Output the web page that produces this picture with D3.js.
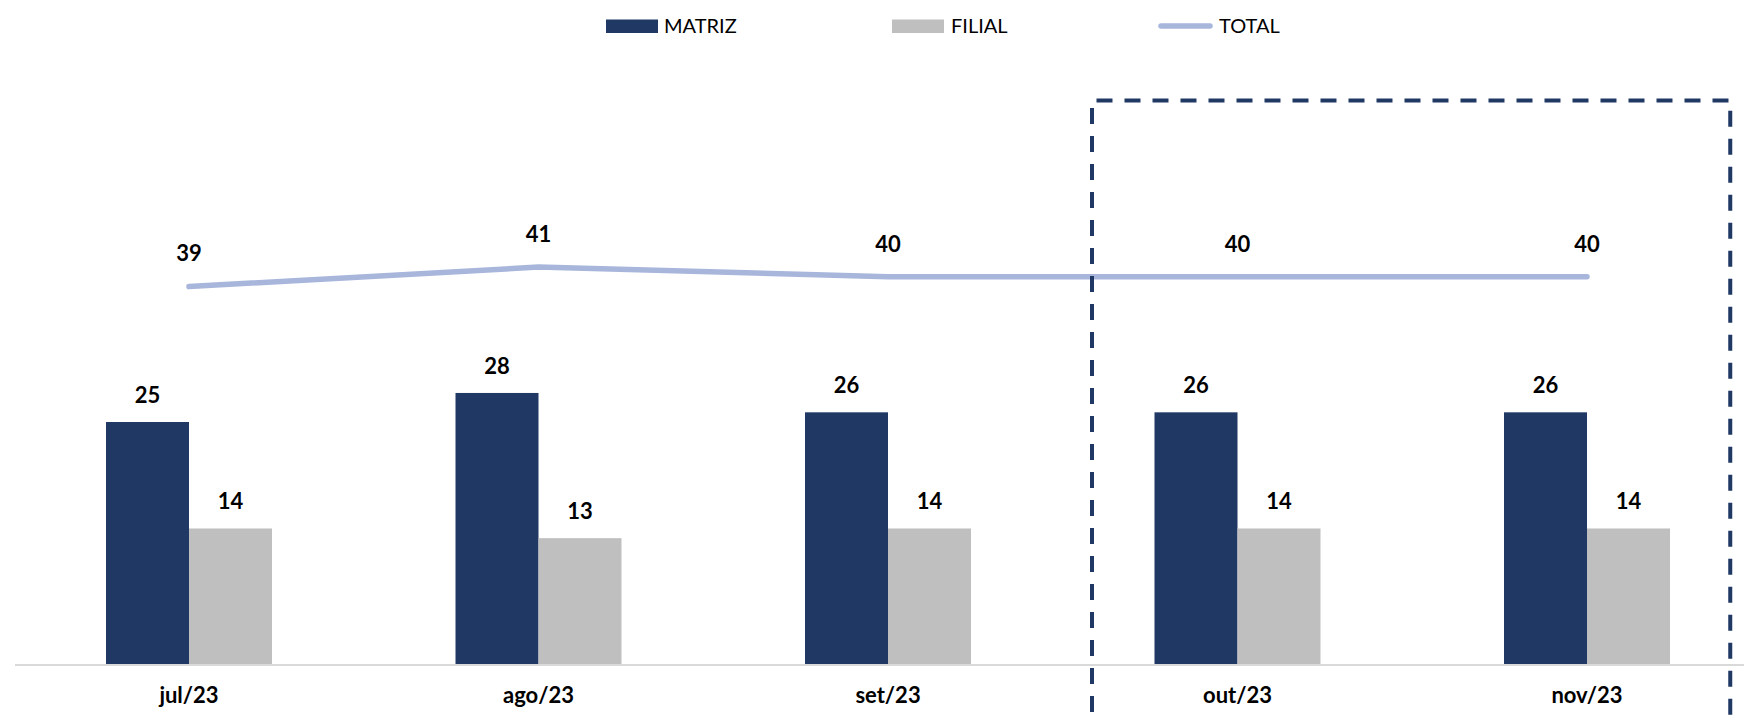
<!DOCTYPE html>
<html>
<head>
<meta charset="utf-8">
<script src="https://cdn.jsdelivr.net/npm/d3@7"></script>
<style>
  html, body { margin: 0; padding: 0; background: #fff; }
  svg { display: block; }
</style>
</head>
<body>
<svg id="chart" width="1744" height="720"></svg>
<script>
const categories = ["jul/23", "ago/23", "set/23", "out/23", "nov/23"];
const matriz = [25, 28, 26, 26, 26];
const filial = [14, 13, 14, 14, 14];
const total = [39, 41, 40, 40, 40];
const seriesNames = ["MATRIZ", "FILIAL"];
const highlighted = ["out/23", "nov/23"];

const colors = { MATRIZ: "#203864", FILIAL: "#BFBFBF", TOTAL: "#A8B6DC" };
const FONT = "Lato, 'Open Sans', sans-serif";

const svg = d3.select("#chart");

const step = 349.5;
const x0 = 14.25;
const x = d3.scaleBand().domain(categories).range([x0, x0 + step * categories.length]).padding(0);
const barW = 83;
const pOuter = (step / barW - 2) / 2;
const xs = d3.scaleBand().domain(seriesNames).range([0, x.bandwidth()]).paddingInner(0).paddingOuter(pOuter);
const y = d3.scaleLinear().domain([0, 58]).range([664, 664 - 58 * 9.68]);

// bars
const rows = categories.map((c, i) => ({ cat: c, MATRIZ: matriz[i], FILIAL: filial[i], TOTAL: total[i] }));
const g = svg.append("g");
rows.forEach(r => {
  seriesNames.forEach(s => {
    g.append("rect")
      .attr("x", x(r.cat) + xs(s))
      .attr("y", y(r[s]))
      .attr("width", xs.bandwidth())
      .attr("height", y(0) - y(r[s]))
      .attr("fill", colors[s]);
    g.append("text")
      .attr("x", x(r.cat) + xs(s) + xs.bandwidth() / 2)
      .attr("y", y(r[s]) - 19)
      .attr("text-anchor", "middle")
      .attr("font-family", FONT)
      .attr("font-weight", "bold")
      .attr("font-size", 22)
      .attr("fill", "#000")
      .text(r[s]);
  });
});

// axis baseline
svg.append("line")
  .attr("x1", 15).attr("x2", 1744)
  .attr("y1", y(0) + 1).attr("y2", y(0) + 1)
  .attr("stroke", "#D9D9D9").attr("stroke-width", 2);

// category labels
const xAxis = d3.axisBottom(x).tickSize(0).tickPadding(0);
const ax = svg.append("g").attr("transform", `translate(0, ${y(0)})`).call(xAxis);
ax.select(".domain").remove();
ax.selectAll("text")
  .attr("y", 39)
  .attr("dy", 0)
  .attr("font-family", FONT)
  .attr("font-weight", "bold")
  .attr("font-size", 22)
  .attr("fill", "#000");

// total line
const line = d3.line().x(d => x(d.cat) + x.bandwidth() / 2).y(d => y(d.TOTAL));
svg.append("path")
  .datum(rows)
  .attr("d", line)
  .attr("fill", "none")
  .attr("stroke", colors.TOTAL)
  .attr("stroke-width", 5.5)
  .attr("stroke-linecap", "round")
  .attr("stroke-linejoin", "round");
svg.selectAll(".tl").data(rows).enter().append("text")
  .attr("x", d => x(d.cat) + x.bandwidth() / 2)
  .attr("y", d => y(d.TOTAL) - 25)
  .attr("text-anchor", "middle")
  .attr("font-family", FONT)
  .attr("font-weight", "bold")
  .attr("font-size", 22)
  .attr("fill", "#000")
  .text(d => d.TOTAL);

// dashed highlight box
const hx1 = x(highlighted[0]) + 29.25;
const hx2 = x(highlighted[highlighted.length - 1]) + x.bandwidth() - 31.5;
const hy = 100.5;
svg.append("path")
  .attr("d", `M${hx1},740 L${hx1},${hy} L${hx2},${hy} L${hx2},740`)
  .attr("fill", "none")
  .attr("stroke", "#203864")
  .attr("stroke-width", 4)
  .attr("stroke-dasharray", "16,12");

// legend
const legend = [
  { name: "MATRIZ", type: "rect", x: 606, tx: 664 },
  { name: "FILIAL", type: "rect", x: 892, tx: 951 },
  { name: "TOTAL", type: "line", x: 1158, tx: 1219 }
];
const lg = svg.append("g");
legend.forEach(l => {
  if (l.type === "rect") {
    lg.append("rect").attr("x", l.x).attr("y", 19.5).attr("width", 52).attr("height", 13.5).attr("fill", colors[l.name]);
  } else {
    lg.append("line").attr("x1", l.x + 3).attr("x2", l.x + 52).attr("y1", 26).attr("y2", 26)
      .attr("stroke", colors.TOTAL).attr("stroke-width", 5.5).attr("stroke-linecap", "round");
  }
  lg.append("text").attr("x", l.tx).attr("y", 33)
    .attr("font-family", FONT).attr("font-size", 20).attr("fill", "#000")
    .text(l.name);
});
</script>
</body>
</html>
